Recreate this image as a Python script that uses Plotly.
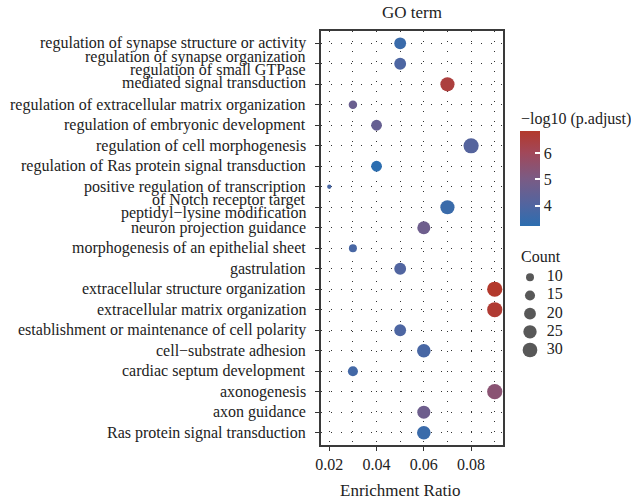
import numpy as np
import plotly.graph_objects as go

# GO terms, top to bottom
terms = [
    "regulation of synapse structure or activity",
    "regulation of synapse organization",
    "regulation of small GTPase mediated signal transduction",
    "regulation of extracellular matrix organization",
    "regulation of embryonic development",
    "regulation of cell morphogenesis",
    "regulation of Ras protein signal transduction",
    "positive regulation of transcription of Notch receptor target",
    "peptidyl\u2212lysine modification",
    "neuron projection guidance",
    "morphogenesis of an epithelial sheet",
    "gastrulation",
    "extracellular structure organization",
    "extracellular matrix organization",
    "establishment or maintenance of cell polarity",
    "cell\u2212substrate adhesion",
    "cardiac septum development",
    "axonogenesis",
    "axon guidance",
    "Ras protein signal transduction",
]
enrichment_ratio = [0.05, 0.05, 0.07, 0.03, 0.04, 0.08, 0.04, 0.02, 0.07, 0.06,
                    0.03, 0.05, 0.09, 0.09, 0.05, 0.06, 0.03, 0.09, 0.06, 0.06]
gene_count = [20, 20, 28, 11, 17, 32, 17, 4, 28, 24,
              10, 20, 32, 32, 20, 26, 15, 32, 24, 26]
neg_log10_padj = [3.5, 3.9, 6.5, 4.6, 4.5, 4.1, 3.2, 3.8, 3.5, 4.7,
                  3.8, 4.0, 6.82, 6.7, 3.9, 3.8, 3.7, 5.4, 4.7, 3.5]
count_breaks = [10, 15, 20, 25, 30]
color_ticks = [4, 5, 6]
x_ticks = [0.02, 0.04, 0.06, 0.08]

# wrapped axis labels (line text, vertical offset in px below the tick)
label_lines = {
    "regulation of synapse organization": [("regulation of synapse organization", -7)],
    "regulation of small GTPase mediated signal transduction": [
        ("regulation of small GTPase", -14), ("mediated signal transduction", -1)],
    "positive regulation of transcription of Notch receptor target": [
        ("positive regulation of transcription", 0), ("of Notch receptor target", 13)],
    "peptidyl\u2212lysine modification": [("peptidyl\u2212lysine modification", 6)],
}

FONT = "Liberation Serif"
TXT = "#222222"
FS = 16
colorscale = [
    [0.0, "#2C6EB0"],
    [0.22, "#5165A0"],
    [0.5, "#7B5B84"],
    [0.77, "#A1485A"],
    [1.0, "#B3392C"],
]


def dot_diameter(c):
    # point area grows linearly with gene count
    return np.sqrt(64 + 7.6 * (np.asarray(c, dtype=float) - 10))


W, H = 631, 500
ml, mr, mt, mb = 321, 0, 31, 55
pw, ph = W - ml - mr, H - mt - mb
panel_right = 503


def px_x(x):
    return (x - ml) / pw


def px_y(y):
    return (H - mb - y) / ph


font = dict(family=FONT, size=FS, color=TXT)

fig = go.Figure()
fig.add_trace(go.Scatter(
    x=enrichment_ratio, y=terms, mode="markers", showlegend=False,
    marker=dict(
        size=dot_diameter(gene_count), color=neg_log10_padj,
        colorscale=colorscale, cmin=min(neg_log10_padj), cmax=max(neg_log10_padj),
        line=dict(width=0), opacity=1,
        colorbar=dict(
            thickness=20, len=95, lenmode="pixels",
            x=px_x(520), xanchor="left", y=px_y(131.5), yanchor="top",
            xpad=0, ypad=0, outlinewidth=0,
            tickvals=color_ticks, ticks="inside", ticklen=5,
            tickcolor="white", tickwidth=1.5,
            tickfont=font, title=dict(text=""),
        ),
    ),
))

# size key drawn on its own small axes
fig.add_trace(go.Scatter(
    x=[0] * len(count_breaks), y=count_breaks, xaxis="x2", yaxis="y2",
    mode="markers", showlegend=False, hoverinfo="skip",
    marker=dict(size=dot_diameter(count_breaks), color="#111111", line=dict(width=0)),
))
fig.add_trace(go.Scatter(
    x=[1] * len(count_breaks), y=count_breaks, xaxis="x2", yaxis="y2",
    mode="text", text=[str(b) for b in count_breaks], textposition="middle right",
    textfont=font, showlegend=False, hoverinfo="skip",
))

annotations = []
for t in terms:
    for text, dy in label_lines.get(t, [(t, 0)]):
        annotations.append(dict(
            x=0, xref="paper", y=t, yref="y", text=text, showarrow=False,
            xanchor="right", yanchor="middle", xshift=-13, yshift=-dy,
            font=font,
        ))
annotations += [
    dict(x=px_x((ml + panel_right) / 2), xref="paper", y=px_y(12.5), yref="paper",
         text="GO term", showarrow=False, xanchor="center", yanchor="middle",
         font=dict(family=FONT, size=17, color=TXT)),
    dict(x=px_x(400), xref="paper", y=px_y(490), yref="paper",
         text="Enrichment Ratio", showarrow=False, xanchor="center",
         yanchor="middle", font=dict(family=FONT, size=17, color=TXT)),
    dict(x=px_x(519), xref="paper", y=px_y(119), yref="paper",
         text="\u2212log10 (p.adjust)", showarrow=False, xanchor="left",
         yanchor="middle", font=font),
    dict(x=px_x(519), xref="paper", y=px_y(256), yref="paper", text="Count",
         showarrow=False, xanchor="left", yanchor="middle", font=font),
]

grid = dict(gridcolor="#333333", gridwidth=1, griddash="1px,9px")
hidden = dict(visible=False, showgrid=False, zeroline=False, fixedrange=True)

fig.update_layout(
    width=W, height=H,
    margin=dict(l=ml, r=mr, t=mt, b=mb),
    paper_bgcolor="white", plot_bgcolor="white",
    font=font,
    showlegend=False,
    annotations=annotations,
    xaxis=dict(
        domain=[0, px_x(panel_right)],
        range=[0.0165, 0.0935], tickvals=x_ticks, tickformat=".2f",
        ticks="outside", ticklen=4, tickcolor="#333333",
        showline=True, mirror=True, linecolor="#3a3a3a", linewidth=1.5,
        zeroline=False, showgrid=True, **grid,
        minor=dict(dtick=0.01, tick0=0.01, showgrid=True, **grid),
        tickfont=font,
    ),
    yaxis=dict(
        type="category", categoryorder="array", categoryarray=terms,
        range=[len(terms) - 0.4, -0.6],
        showticklabels=False, ticks="outside", ticklen=4, tickcolor="#333333",
        showline=True, mirror=True, linecolor="#3a3a3a", linewidth=1.5,
        zeroline=False, showgrid=True, **grid,
    ),
    xaxis2=dict(domain=[px_x(515), 1.0], range=[(515 - 530) / 16.7, (631 - 530) / 16.7],
                anchor="y2", **hidden),
    yaxis2=dict(domain=[px_y(360), px_y(268)],
                range=[30 + 0.55 * 5, 10 - 0.51 * 5], anchor="x2", **hidden),
)

fig.write_html("out.html")
